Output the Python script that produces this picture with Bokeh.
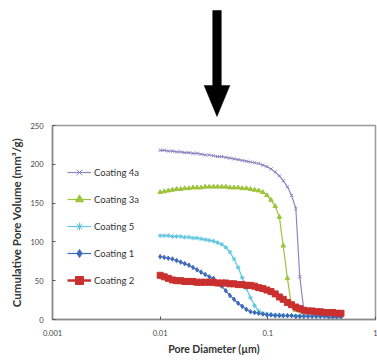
from bokeh.plotting import figure
from bokeh.layouts import column
from bokeh.models import Legend, LegendItem, FixedTicker, Range1d
from bokeh.embed import file_html
from bokeh.resources import INLINE

# Pore diameter (µm)
diameter = [0.0100, 0.0109, 0.0119, 0.0130, 0.0142, 0.0155, 0.0169, 0.0185, 0.0202, 0.0220,
            0.0240, 0.0262, 0.0286, 0.0313, 0.0341, 0.0373, 0.0407, 0.0444, 0.0485, 0.0530,
            0.0578, 0.0632, 0.0690, 0.0753, 0.0822, 0.0898, 0.0980, 0.107, 0.117, 0.128,
            0.139, 0.152, 0.166, 0.182, 0.198, 0.216, 0.236, 0.258, 0.282, 0.308,
            0.336, 0.367, 0.400, 0.437, 0.478]

coating_4a = [218, 218, 217, 217, 216, 216, 215, 215, 214, 214,
              213, 212, 212, 211, 210, 210, 209, 208, 207, 206,
              205, 204, 203, 202, 201, 199, 197, 194, 190, 185,
              179, 171, 160, 143, 55, 12, 10, 10, 9, 9,
              9, 8, 8, 8, 8]
coating_3a = [164, 165, 166, 167, 168, 168, 169, 169, 170, 170,
              170, 171, 171, 171, 171, 171, 171, 170, 170, 170,
              169, 169, 168, 167, 166, 164, 160, 154, 146, 132,
              95, 53, 18, 12, 11, 10, 10, 10, 9, 9,
              9, 9, 9, 8, 8]
coating_5 = [108, 108, 108, 107, 107, 107, 106, 106, 105, 105,
             104, 103, 102, 101, 99, 97, 93, 87, 78, 67,
             54, 40, 28, 18, 11, 8, 7, 6, 6, 6,
             5, 5, 5, 5, 5, 5, 5, 5, 5, 5,
             5, 5, 5, 5, 5]
coating_1 = [81, 80, 79, 78, 76, 74, 72, 70, 67, 64,
             61, 58, 55, 53, 48, 43, 37, 31, 26, 21,
             17, 13, 10, 9, 8, 7, 6, 6, 5, 5,
             5, 5, 5, 4, 4, 4, 4, 4, 4, 4,
             4, 3, 3, 3, 3]
coating_2 = [57, 55, 53, 51, 50, 50, 49, 49, 49, 48,
             48, 48, 48, 48, 47, 47, 47, 46, 46, 45,
             45, 44, 44, 43, 41, 40, 38, 36, 33, 29,
             26, 22, 19, 16, 14, 12, 11, 11, 10, 10,
             9, 9, 9, 8, 8]

series_names = ["Coating 4a", "Coating 3a", "Coating 5", "Coating 1", "Coating 2"]
series_values = [coating_4a, coating_3a, coating_5, coating_1, coating_2]
series_colors = ["#8e84c2", "#9cc43c", "#62c6e0", "#3f6bb8", "#c9302f"]
series_markers = ["x", "triangle", "asterisk", "diamond", "square"]
series_sizes = [4.5, 4.5, 4.5, 4.5, 6]
series_widths = [1.2, 1.2, 1.2, 1.2, 2.5]

x_ticks = [0.001, 0.01, 0.1, 1]
x_tick_labels = ["0.001", "0.01", "0.1", "1"]
y_ticks = [0, 50, 100, 150, 200, 250]

FONT = "Lato"

# ---- top panel: arrow ----
top = figure(width=377, height=120, x_range=Range1d(0, 377), y_range=Range1d(120, 0),
             toolbar_location=None, output_backend="svg", min_border=0)
top.axis.visible = False
top.grid.visible = False
top.outline_line_color = None
top.patch([187, 197, 197, 207, 192, 177, 187], [10, 10, 85, 85, 116, 85, 85],
          fill_color="black", line_color="black", line_width=0.5)

# ---- main chart ----
p = figure(width=377, height=241, x_axis_type="log",
           x_range=Range1d(0.001, 1), y_range=Range1d(0, 250),
           toolbar_location=None, output_backend="svg",
           min_border_top=5, min_border_bottom=42, min_border_left=52, min_border_right=2)
p.grid.visible = False
p.outline_line_color = "#9a9a9a"
p.outline_line_width = 1.5

items = []
for name, vals, col, mk, sz, lw in zip(series_names, series_values, series_colors,
                                       series_markers, series_sizes, series_widths):
    ln = p.line(diameter, vals, line_color=col, line_width=lw)
    sc = p.scatter(diameter, vals, marker=mk, size=sz, line_color=col, fill_color=col, line_width=1)
    items.append(LegendItem(label=name, renderers=[ln, sc]))

legend = Legend(items=items, location=(15, 29), border_line_color=None,
                background_fill_alpha=0, padding=0, margin=0, spacing=7,
                glyph_height=20, glyph_width=24, label_standoff=3,
                label_text_font=FONT, label_text_font_size="9.5px", label_text_color="#333333")
p.add_layout(legend)

p.xaxis.ticker = FixedTicker(ticks=x_ticks)
p.xaxis.major_label_overrides = {t: l for t, l in zip(x_ticks, x_tick_labels)}
p.yaxis.ticker = FixedTicker(ticks=y_ticks)
for ax in (p.xaxis, p.yaxis):
    ax.axis_line_color = "#8a8a8a"
    ax.axis_line_width = 1.5
    ax.major_tick_in = 3
    ax.major_tick_out = 0
    ax.major_tick_line_color = "#555555"
    ax.minor_tick_line_color = None
    ax.major_label_text_font = FONT
    ax.major_label_text_font_size = "7.5px"
    ax.major_label_text_color = "#444444"
    ax.axis_label_text_font = FONT
    ax.axis_label_text_font_style = "bold"
    ax.axis_label_text_color = "#333333"
p.xaxis.major_label_standoff = 10
p.yaxis.major_label_standoff = 9
p.xaxis.axis_label = "Pore Diameter (µm)"
p.yaxis.axis_label = "Cumulative Pore Volume (mm³/g)"
p.xaxis.axis_label_text_font_size = "10.5px"
p.yaxis.axis_label_text_font_size = "11.5px"
p.xaxis.axis_label_standoff = 4
p.yaxis.axis_label_standoff = 4

layout = column(top, p, spacing=0)
open("out.html", "w").write(file_html(layout, INLINE))
